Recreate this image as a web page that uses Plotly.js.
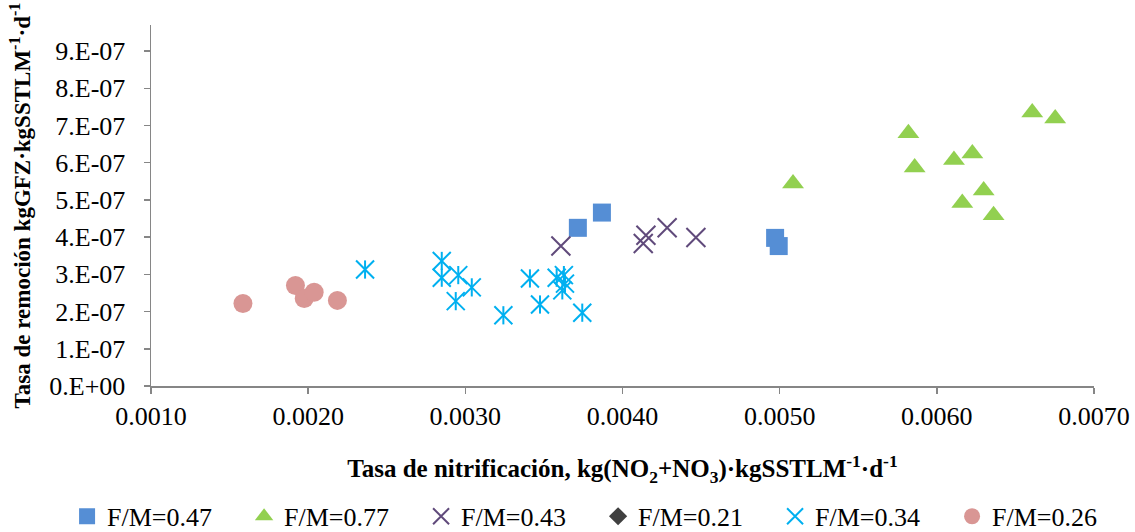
<!DOCTYPE html>
<html>
<head>
<meta charset="utf-8">
<script src="https://cdn.plot.ly/plotly-3.0.1.min.js"></script>
<style>html,body{margin:0;padding:0;background:#fff;}#chart{width:1135px;height:532px;}</style>
</head>
<body>
<div id="chart"></div>
<script>
// F/M = 0.47
const fm047_x = [0.003716, 0.003869, 0.004971, 0.004994];
const fm047_y = [4.25e-7, 4.66e-7, 3.98e-7, 3.76e-7];
// F/M = 0.77
const fm077_x = [0.005085, 0.005819, 0.005859, 0.006109, 0.006226, 0.006162, 0.006298, 0.006361, 0.006607, 0.006753];
const fm077_y = [5.44e-7, 6.79e-7, 5.87e-7, 6.07e-7, 6.25e-7, 4.92e-7, 5.25e-7, 4.59e-7, 7.35e-7, 7.19e-7];
// F/M = 0.43
const fm043_x = [0.003608, 0.004132, 0.004149, 0.004284, 0.004467];
const fm043_y = [3.76e-7, 3.83e-7, 4.05e-7, 4.25e-7, 3.99e-7];
// F/M = 0.21 (no visible points)
const fm021_x = [null];
const fm021_y = [null];
// F/M = 0.34
const fm034_x = [0.002362, 0.002850, 0.002850, 0.002955, 0.002939, 0.003041, 0.003242, 0.003411, 0.003475, 0.003581, 0.003627, 0.003634, 0.003617, 0.003744];
const fm034_y = [3.13e-7, 3.36e-7, 2.91e-7, 2.98e-7, 2.28e-7, 2.65e-7, 1.90e-7, 2.89e-7, 2.19e-7, 2.91e-7, 2.98e-7, 2.75e-7, 2.57e-7, 1.97e-7];
// F/M = 0.26
const fm026_x = [0.001585, 0.001919, 0.001975, 0.002038, 0.002186];
const fm026_y = [2.215e-7, 2.70e-7, 2.35e-7, 2.52e-7, 2.30e-7];

const xTickVals = [0.001, 0.002, 0.003, 0.004, 0.005, 0.006, 0.007];
const xTickText = ['0.0010', '0.0020', '0.0030', '0.0040', '0.0050', '0.0060', '0.0070'];
const yTickVals = [0, 1e-7, 2e-7, 3e-7, 4e-7, 5e-7, 6e-7, 7e-7, 8e-7, 9e-7];
const yTickText = ['0.E+00', '1.E-07', '2.E-07', '3.E-07', '4.E-07', '5.E-07', '6.E-07', '7.E-07', '8.E-07', '9.E-07'];

const FONT = 'Liberation Serif';

const traces = [
  {name: 'F/M=0.47', x: fm047_x, y: fm047_y, mode: 'markers', type: 'scatter',
   marker: {symbol: 'square', size: 18, color: '#558ED5'}},
  {name: 'F/M=0.77', x: fm077_x, y: fm077_y, mode: 'markers', type: 'scatter',
   marker: {symbol: 'triangle-up', size: 19, color: '#92D050'}},
  {name: 'F/M=0.43', x: fm043_x, y: fm043_y, mode: 'markers', type: 'scatter',
   marker: {symbol: 'x-thin-open', size: 19, color: '#604A7B', line: {width: 2, color: '#604A7B'}}},
  {name: 'F/M=0.21', x: fm021_x, y: fm021_y, mode: 'markers', type: 'scatter',
   marker: {symbol: 'diamond', size: 14, color: '#404040'}},
  {name: 'F/M=0.34', x: fm034_x, y: fm034_y, mode: 'markers', type: 'scatter',
   legendgroup: 'g34',
   marker: {symbol: 'x-thin-open', size: 18, color: '#00B0F0', line: {width: 2, color: '#00B0F0'}}},
  {name: 'F/M=0.34', x: fm034_x, y: fm034_y, mode: 'markers', type: 'scatter',
   legendgroup: 'g34', showlegend: false,
   marker: {symbol: 'line-ns-open', size: 13, color: '#00B0F0', line: {width: 2, color: '#00B0F0'}}},
  {name: 'F/M=0.26', x: fm026_x, y: fm026_y, mode: 'markers', type: 'scatter',
   marker: {symbol: 'circle', size: 19, color: '#D99694'}}
];

const layout = {
  width: 1135, height: 532,
  paper_bgcolor: '#ffffff', plot_bgcolor: '#ffffff',
  margin: {l: 151, r: 41, t: 25, b: 146, pad: 0, autoexpand: false},
  font: {family: FONT, size: 26, color: '#000'},
  showlegend: true,
  legend: {orientation: 'h', x: -0.089, xanchor: 'left', y: -0.296, yanchor: 'top',
           font: {family: FONT, size: 26, color: '#000'}, entrywidth: 132, entrywidthmode: 'pixels',
           itemwidth: 30, traceorder: 'normal'},
  xaxis: {
    range: [0.001, 0.007], tickvals: xTickVals, ticktext: xTickText,
    showgrid: false, zeroline: false, showline: true, linecolor: '#868686', linewidth: 1.5,
    ticks: 'outside', ticklen: 6, tickcolor: '#868686', tickwidth: 1.5,
    tickfont: {family: FONT, size: 26, color: '#000'},
    title: {text: '<b>Tasa de nitrificación, kg(NO<sub>2</sub>+NO<sub>3</sub>)·kgSSTLM<sup>-1</sup>·d<sup>-1</sup></b>',
            font: {family: FONT, size: 25, color: '#000'}, standoff: 30}
  },
  yaxis: {
    range: [0, 9.7e-7], tickvals: yTickVals, ticktext: yTickText,
    showgrid: false, zeroline: false, showline: true, linecolor: '#868686', linewidth: 1.5,
    ticks: 'outside', ticklen: 6, tickcolor: '#868686', tickwidth: 1.5,
    ticklabelstandoff: 13,
    tickfont: {family: FONT, size: 26, color: '#000'},
    title: {text: '<b>Tasa de remoción kgGFZ·kgSSTLM<sup>-1</sup>·d<sup>-1</sup></b>',
            font: {family: FONT, size: 23, color: '#000'}, standoff: 12}
  }
};

Plotly.newPlot('chart', traces, layout, {displayModeBar: false, staticPlot: true});
</script>
</body>
</html>
